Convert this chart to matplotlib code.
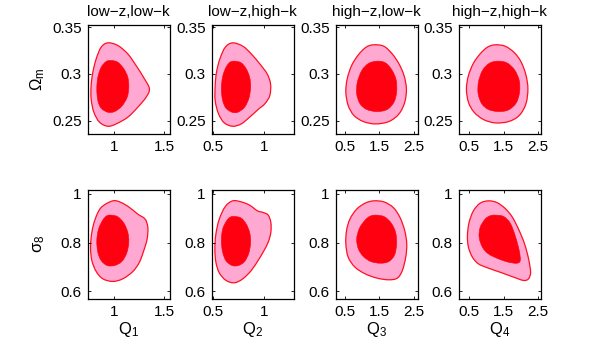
import numpy as np
import matplotlib
matplotlib.use("Agg")
import matplotlib.pyplot as plt
from matplotlib.path import Path
from matplotlib.patches import PathPatch

plt.rcParams['font.family'] = ['Liberation Sans', 'DejaVu Sans']
plt.rcParams['mathtext.fontset'] = 'custom'
plt.rcParams['mathtext.rm'] = 'Liberation Sans'
plt.rcParams['mathtext.it'] = 'Liberation Sans'

# Подписи панелей
titles = ["low\u2212z,low\u2212k", "low\u2212z,high\u2212k",
          "high\u2212z,low\u2212k", "high\u2212z,high\u2212k"]
xlabels = ["Q$_{\\rm 1}$", "Q$_{\\rm 2}$", "Q$_{\\rm 3}$", "Q$_{\\rm 4}$"]
ylabels = ["\u03A9$_{\\rm m}$", "\u03C3$_{\\rm 8}$"]

# Пределы и деления осей
xlims = [(0.745, 1.55), (0.495, 1.29), (0.25, 2.6), (0.2, 2.58)]
xticks = [[1, 1.5], [0.5, 1], [0.5, 1.5, 2.5], [0.5, 1.5, 2.5]]
xticklabels = [["1", "1.5"], ["0.5", "1"], ["0.5", "1.5", "2.5"], ["0.5", "1.5", "2.5"]]
ylims = [(0.2356, 0.352), (0.57, 1.018)]
yticks = [[0.25, 0.3, 0.35], [0.6, 0.8, 1.0]]
yticklabels = [["0.25", "0.3", "0.35"], ["0.6", "0.8", "1"]]

# Контуры 95% и 68% (Q, Omega_m)
om_95 = [
    [(0.941, 0.3332), (1.039, 0.3304), (1.138, 0.3214), (1.220, 0.3089), (1.303, 0.2946),
     (1.352, 0.2839), (1.319, 0.2750), (1.237, 0.2643), (1.138, 0.2536), (1.023, 0.2464),
     (0.941, 0.2439), (0.859, 0.2482), (0.803, 0.2589), (0.776, 0.2732), (0.776, 0.2875),
     (0.793, 0.3018), (0.826, 0.3161), (0.875, 0.3286)],
    [(0.697, 0.3332), (0.796, 0.3296), (0.878, 0.3214), (0.961, 0.3107), (1.033, 0.3000),
     (1.066, 0.2893), (1.059, 0.2768), (1.010, 0.2679), (0.944, 0.2618), (0.862, 0.2536),
     (0.780, 0.2464), (0.697, 0.2439), (0.615, 0.2475), (0.559, 0.2571), (0.526, 0.2714),
     (0.526, 0.2875), (0.539, 0.3018), (0.572, 0.3161), (0.625, 0.3286)],
    [(1.334, 0.3311), (1.627, 0.3296), (1.871, 0.3214), (2.066, 0.3107), (2.212, 0.2982),
     (2.280, 0.2839), (2.232, 0.2696), (2.066, 0.2571), (1.773, 0.2489), (1.383, 0.2464),
     (1.041, 0.2489), (0.768, 0.2554), (0.602, 0.2661), (0.534, 0.2804), (0.573, 0.2946),
     (0.700, 0.3089), (0.895, 0.3204), (1.120, 0.3286)],
    [(1.256, 0.3311), (1.549, 0.3296), (1.822, 0.3225), (2.017, 0.3125), (2.154, 0.2989),
     (2.212, 0.2839), (2.154, 0.2679), (1.959, 0.2554), (1.646, 0.2489), (1.256, 0.2475),
     (0.915, 0.2511), (0.641, 0.2589), (0.476, 0.2696), (0.417, 0.2839), (0.476, 0.2982),
     (0.622, 0.3114), (0.817, 0.3214), (1.032, 0.3286)],
]
om_68 = [
    [(0.974, 0.3143), (1.039, 0.3125), (1.099, 0.3054), (1.138, 0.2964), (1.148, 0.2857),
     (1.132, 0.2750), (1.079, 0.2654), (1.007, 0.2596), (0.941, 0.2589), (0.875, 0.2632),
     (0.842, 0.2714), (0.832, 0.2839), (0.842, 0.2964), (0.875, 0.3071), (0.924, 0.3132)],
    [(0.714, 0.3136), (0.780, 0.3118), (0.829, 0.3054), (0.862, 0.2964), (0.872, 0.2857),
     (0.855, 0.2739), (0.813, 0.2643), (0.747, 0.2589), (0.691, 0.2589), (0.632, 0.2632),
     (0.599, 0.2714), (0.586, 0.2839), (0.599, 0.2971), (0.632, 0.3071), (0.671, 0.3125)],
    [(1.432, 0.3136), (1.676, 0.3118), (1.871, 0.3036), (1.988, 0.2929), (1.998, 0.2804),
     (1.920, 0.2696), (1.724, 0.2618), (1.432, 0.2596), (1.139, 0.2618), (0.944, 0.2679),
     (0.846, 0.2786), (0.866, 0.2911), (0.993, 0.3036), (1.188, 0.3111)],
    [(1.334, 0.3136), (1.598, 0.3118), (1.822, 0.3043), (1.959, 0.2929), (1.968, 0.2804),
     (1.871, 0.2689), (1.646, 0.2614), (1.354, 0.2596), (1.061, 0.2618), (0.866, 0.2679),
     (0.759, 0.2786), (0.768, 0.2911), (0.885, 0.3036), (1.090, 0.3114)],
]

# Контуры 95% и 68% (Q, sigma_8)
s8_95 = [
    [(0.990, 0.9714), (1.072, 0.9646), (1.155, 0.9442), (1.237, 0.9170), (1.309, 0.8966),
     (1.336, 0.8626), (1.329, 0.8150), (1.296, 0.7673), (1.253, 0.7197), (1.188, 0.6816),
     (1.089, 0.6517), (0.990, 0.6408), (0.891, 0.6517), (0.826, 0.6816), (0.783, 0.7265),
     (0.770, 0.7810), (0.783, 0.8422), (0.816, 0.8966), (0.875, 0.9442)],
    [(0.697, 0.9714), (0.780, 0.9673), (0.862, 0.9537), (0.938, 0.9306), (0.993, 0.9238),
     (1.043, 0.9129), (1.069, 0.8830), (1.069, 0.8422), (1.043, 0.8014), (0.993, 0.7605),
     (0.944, 0.7265), (0.878, 0.6857), (0.796, 0.6517), (0.714, 0.6354), (0.632, 0.6449),
     (0.566, 0.6762), (0.533, 0.7197), (0.523, 0.7741), (0.533, 0.8354), (0.566, 0.8966),
     (0.625, 0.9483)],
    [(1.334, 0.9714), (1.627, 0.9673), (1.900, 0.9442), (2.095, 0.9034), (2.232, 0.8490),
     (2.290, 0.7946), (2.261, 0.7401), (2.163, 0.6857), (2.017, 0.6544), (1.773, 0.6476),
     (1.432, 0.6544), (1.090, 0.6721), (0.798, 0.6993), (0.602, 0.7401), (0.534, 0.7946),
     (0.554, 0.8490), (0.651, 0.8966), (0.846, 0.9374), (1.090, 0.9619)],
    [(1.061, 0.9714), (1.305, 0.9646), (1.549, 0.9401), (1.763, 0.9034), (1.959, 0.8490),
     (2.115, 0.7946), (2.232, 0.7333), (2.290, 0.6789), (2.232, 0.6517), (2.085, 0.6449),
     (1.793, 0.6585), (1.451, 0.6762), (1.061, 0.6952), (0.768, 0.7129), (0.593, 0.7401),
     (0.476, 0.7810), (0.446, 0.8286), (0.495, 0.8830), (0.622, 0.9306), (0.817, 0.9619)],
]
s8_68 = [
    [(0.974, 0.9129), (1.039, 0.9061), (1.099, 0.8803), (1.138, 0.8422), (1.148, 0.8014),
     (1.128, 0.7578), (1.079, 0.7224), (1.007, 0.7061), (0.934, 0.7061), (0.875, 0.7265),
     (0.842, 0.7605), (0.832, 0.8082), (0.849, 0.8558), (0.891, 0.8925), (0.931, 0.9102)],
    [(0.714, 0.9075), (0.780, 0.9007), (0.829, 0.8762), (0.862, 0.8422), (0.872, 0.8014),
     (0.855, 0.7578), (0.813, 0.7224), (0.753, 0.7061), (0.691, 0.7061), (0.632, 0.7252),
     (0.599, 0.7605), (0.586, 0.8082), (0.599, 0.8558), (0.638, 0.8898), (0.674, 0.9048)],
    [(1.412, 0.9129), (1.646, 0.9061), (1.841, 0.8803), (1.968, 0.8422), (1.998, 0.7946),
     (1.939, 0.7497), (1.773, 0.7224), (1.529, 0.7156), (1.256, 0.7224), (1.041, 0.7429),
     (0.895, 0.7741), (0.846, 0.8150), (0.924, 0.8585), (1.090, 0.8925), (1.237, 0.9088)],
    [(1.256, 0.9129), (1.500, 0.9075), (1.695, 0.8803), (1.841, 0.8286), (1.959, 0.7673),
     (1.988, 0.7265), (1.890, 0.7156), (1.646, 0.7197), (1.354, 0.7333), (1.061, 0.7537),
     (0.885, 0.7810), (0.788, 0.8218), (0.817, 0.8626), (0.963, 0.8966), (1.110, 0.9102)],
]

PINK = "#ffa8d2"
RED = "#ff0010"


def closed_curve(points):
    """Замкнутый путь из кубических кривых Безье через заданные точки."""
    p = np.asarray(points, dtype=float)
    n = len(p)
    verts = [p[0]]
    codes = [Path.MOVETO]
    for i in range(n):
        p0, p1, p2, p3 = p[i - 1], p[i], p[(i + 1) % n], p[(i + 2) % n]
        verts += [p1 + (p2 - p0) / 6.0, p2 - (p3 - p1) / 6.0, p2]
        codes += [Path.CURVE4] * 3
    verts.append(p[0])
    codes.append(Path.CLOSEPOLY)
    return Path(verts, codes)


fig = plt.figure(figsize=(5.99, 3.46), dpi=100)
W, H = 599.0, 346.0
lefts = [88, 212, 336, 459]
rows = [(25.3, 134.0), (189.5, 298.7)]  # верх, низ в пикселях

for r, (top, bot) in enumerate(rows):
    c95 = om_95 if r == 0 else s8_95
    c68 = om_68 if r == 0 else s8_68
    for c in range(4):
        ax = fig.add_axes([lefts[c] / W, (H - bot) / H, 81.5 / W, (bot - top) / H])
        ax.add_patch(PathPatch(closed_curve(c95[c]), facecolor=PINK,
                               edgecolor="#ff1020", lw=0.9))
        ax.add_patch(PathPatch(closed_curve(c68[c]), facecolor=RED,
                               edgecolor=RED, lw=0.4))
        ax.set_xlim(xlims[c])
        ax.set_ylim(ylims[r])
        ax.set_xticks(xticks[c])
        ax.set_xticklabels(xticklabels[c])
        ax.set_yticks(yticks[r])
        ax.set_yticklabels(yticklabels[r])
        ax.tick_params(direction="in", top=True, right=True, length=2, width=0.6,
                       labelsize=11, pad=4.5)
        for s in ax.spines.values():
            s.set_linewidth(0.9)
        if r == 0:
            ax.set_title(titles[c], fontsize=11, pad=7)
        else:
            ax.set_xlabel(xlabels[c], fontsize=12, labelpad=0.5)
        if c == 0:
            ax.set_ylabel(ylabels[r], fontsize=12)
            ax.yaxis.set_label_coords(-0.5, 0.5)

fig.savefig("out.png", dpi=100)
